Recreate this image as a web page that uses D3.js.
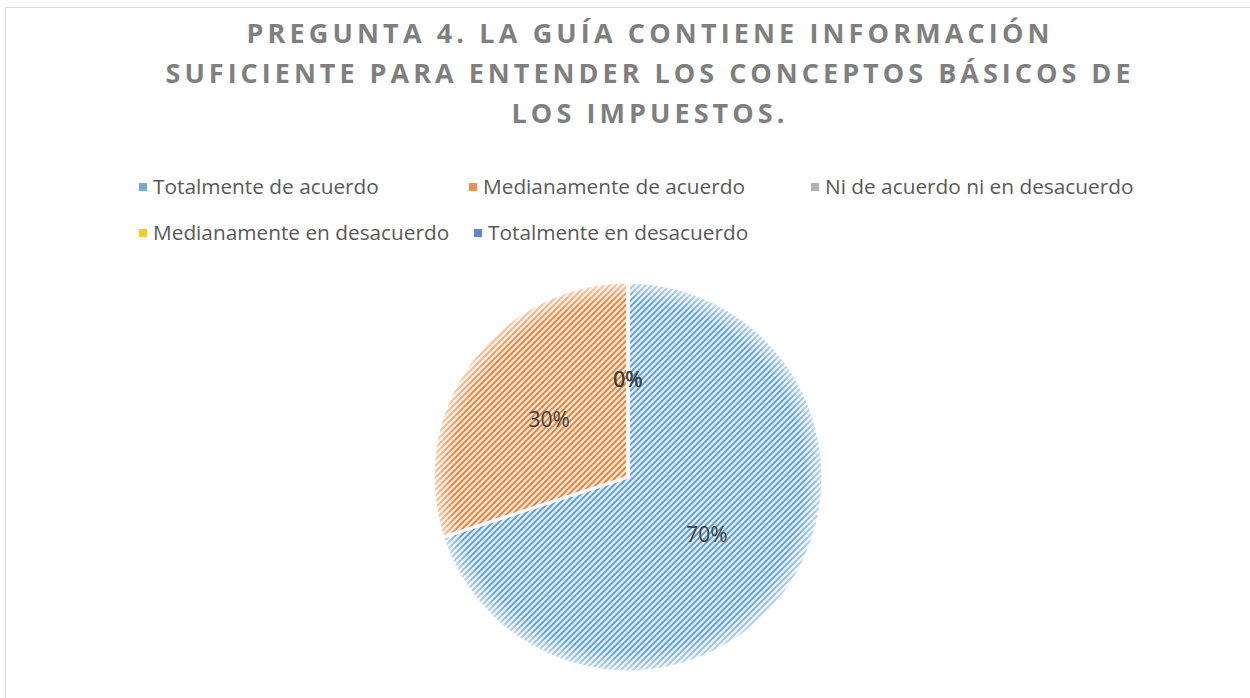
<!DOCTYPE html>
<html>
<head>
<meta charset="utf-8">
<script src="https://cdn.jsdelivr.net/npm/d3@7"></script>
<style>
  body { margin: 0; background: #fff; }
  svg { display: block; }
</style>
</head>
<body>
<div id="chart"></div>
<script>
const titleLines = [
    "PREGUNTA 4. LA GUÍA CONTIENE INFORMACIÓN",
    "SUFICIENTE PARA ENTENDER LOS CONCEPTOS BÁSICOS DE",
    "LOS IMPUESTOS."
];
const categories = [
    "Totalmente de acuerdo",
    "Medianamente de acuerdo",
    "Ni de acuerdo ni en desacuerdo",
    "Medianamente en desacuerdo",
    "Totalmente en desacuerdo"
];
const values = [70, 30, 0, 0, 0];
const colors = ["#5B9BD5", "#ED7D31", "#A5A5A5", "#FFC000", "#4472C4"];
const lightColors = ["#E0ECF8", "#FCE5D6", "#EDEDED", "#FFF2CC", "#DAE3F3"];

const W = 1250, H = 698;

const svg = d3.select("#chart")
    .append("svg")
    .attr("width", W)
    .attr("height", H);

const defs = svg.append("defs");

// diagonal stripe patterns, one per series
colors.forEach((c, i) => {
    const p = defs.append("pattern")
        .attr("id", "pat" + i)
        .attr("patternUnits", "userSpaceOnUse")
        .attr("width", 6)
        .attr("height", 6);
    p.append("rect").attr("width", 6).attr("height", 6).attr("fill", lightColors[i]);
    p.append("path")
        .attr("d", "M0,6 L6,0 M-1,1 L1,-1 M5,7 L7,5")
        .attr("stroke", c)
        .attr("stroke-width", 1.8);
});

// soft edge of the pie
const soft = defs.append("radialGradient").attr("id", "softEdge");
soft.append("stop").attr("offset", "0.9").attr("stop-color", "#fff").attr("stop-opacity", 0);
soft.append("stop").attr("offset", "1").attr("stop-color", "#fff").attr("stop-opacity", 0.6);

// chart border
svg.append("rect")
    .attr("x", 5.5)
    .attr("y", 7.5)
    .attr("width", W + 20)
    .attr("height", H + 20)
    .attr("fill", "none")
    .attr("stroke", "#D9D9D9");

// title
const titleWidths = [803, 965, 273];
svg.append("g")
    .selectAll("text")
    .data(titleLines)
    .join("text")
    .attr("x", 648)
    .attr("y", (d, i) => 43 + i * 40)
    .attr("text-anchor", "middle")
    .attr("font-family", "'Open Sans', sans-serif")
    .attr("font-weight", "bold")
    .attr("font-size", 27)
    .attr("fill", "#7F7F7F")
    .attr("textLength", (d, i) => titleWidths[i])
    .attr("lengthAdjust", "spacing")
    .text(d => d);

// legend
const legendPos = [
    { x: 143, y: 187 }, { x: 473, y: 187 }, { x: 815, y: 187 },
    { x: 143, y: 233 }, { x: 478, y: 233 }
];
const legend = svg.append("g")
    .selectAll("g")
    .data(categories)
    .join("g")
    .attr("transform", (d, i) => `translate(${legendPos[i].x},${legendPos[i].y})`);

legend.append("rect")
    .attr("x", -4)
    .attr("y", -4)
    .attr("width", 8)
    .attr("height", 8)
    .attr("fill", (d, i) => colors[i])
    .attr("opacity", 0.85);

legend.append("text")
    .attr("x", 10)
    .attr("dy", "0.35em")
    .attr("font-family", "'Open Sans', sans-serif")
    .attr("font-size", 20.8)
    .attr("fill", "#595959")
    .text(d => d);

// pie
const cx = 628, cy = 477, radius = 195;
const pie = d3.pie().sort(null).value(d => d);
const arcs = pie(values);
const arc = d3.arc().innerRadius(0).outerRadius(radius);
const labelArc = d3.arc().innerRadius(radius * 0.5).outerRadius(radius * 0.5);

const g = svg.append("g").attr("transform", `translate(${cx},${cy})`);

g.selectAll("path.slice")
    .data(arcs)
    .join("path")
    .attr("class", "slice")
    .attr("d", arc)
    .attr("fill", (d, i) => `url(#pat${i})`)
    .attr("stroke", "#fff")
    .attr("stroke-width", 3)
    .attr("stroke-linejoin", "round");

g.append("circle")
    .attr("r", radius)
    .attr("fill", "url(#softEdge)")
    .attr("pointer-events", "none");

g.selectAll("text.lbl")
    .data(arcs)
    .join("text")
    .attr("class", "lbl")
    .attr("transform", d => `translate(${labelArc.centroid(d)})`)
    .attr("text-anchor", "middle")
    .attr("dy", "0.35em")
    .attr("font-family", "'Open Sans', sans-serif")
    .attr("font-size", 21)
    .attr("fill", "#404040")
    .text(d => Math.round(d.data) + "%");
</script>
</body>
</html>
